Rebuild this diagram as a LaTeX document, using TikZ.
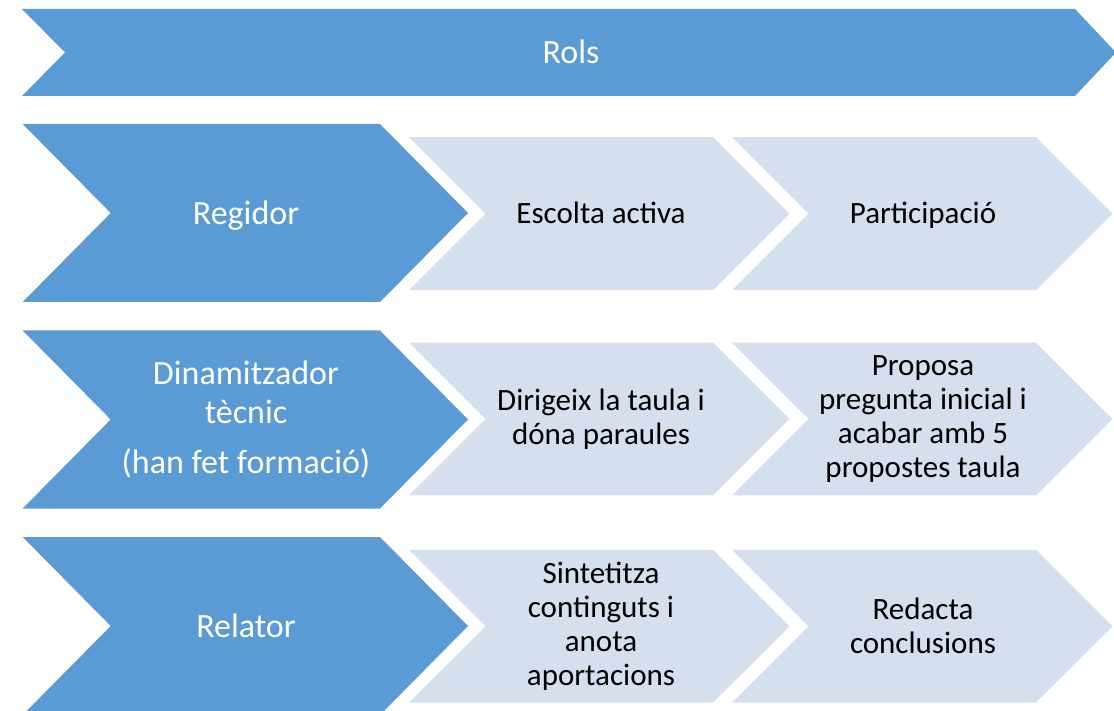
\documentclass[tikz,border=0pt]{standalone}
\usepackage{fontspec}
\setmainfont{Carlito}
\definecolor{darkblue}{HTML}{5B9BD5}
\definecolor{lightblue}{RGB}{213,223,238}
\tikzset{
  darkshape/.style={fill=darkblue},
  lightshape/.style={fill=lightblue},
  darktext/.style={text=white,font=\fontsize{34}{39}\selectfont,align=center,inner sep=0pt},
  lighttext/.style={text=black,font=\fontsize{31}{34}\selectfont,align=center,inner sep=0pt}
}
\begin{document}
\begin{tikzpicture}[x=1pt,y=-1pt]
\useasboundingbox (0,0) rectangle (1114,711);
\clip (0,0) rectangle (1114,711);
% banner
\fill[darkshape] (22,9) -- (1075,9) -- (1116,52.5) -- (1075,96) -- (22,96) -- (65,52.5) -- cycle;
% dark chevrons
\foreach \c in {213,419.5,626}{
  \fill[darkshape] (22.7,\c-89) -- (380,\c-89) -- (468,\c) -- (380,\c+89) -- (22.7,\c+89) -- (110.7,\c) -- cycle;
}
% light chevrons
\foreach \c in {213.6,419,626.3}{
  \foreach \L in {409,732}{
    \fill[lightshape] (\L,\c-76.4) -- (\L+304,\c-76.4) -- (\L+380.5,\c) -- (\L+304,\c+76.4) -- (\L,\c+76.4) -- (\L+76.5,\c) -- cycle;
  }
}
\node[darktext,anchor=base] (rols) at (571,63.5) {Rols};
\node[darktext,anchor=base] (regidor) at (246,224.5) {Regidor};
\node[darktext] (dinam) at (246,419.5) {Dinamitzador\\tècnic\\[11pt](han fet formació)};
\node[darktext,anchor=base] (relator) at (246,637.5) {Relator};
\node[lighttext,anchor=base] (escolta) at (601,223.5) {Escolta activa};
\node[lighttext,anchor=base] (partic) at (923,223.5) {Participació};
\node[lighttext] (dirig) at (601,419) {Dirigeix la taula i\\dóna paraules};
\node[lighttext] (proposa) at (923,419) {Proposa\\pregunta inicial i\\acabar amb 5\\propostes taula};
\node[lighttext] (sintet) at (601,626.3) {Sintetitza\\continguts i\\anota\\aportacions};
\node[lighttext] (redacta) at (923,626.3) {Redacta\\conclusions};
\end{tikzpicture}
\end{document}
